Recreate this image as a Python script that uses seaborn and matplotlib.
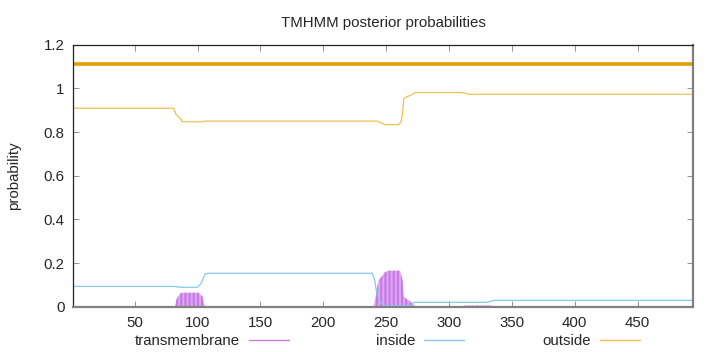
import numpy as np
import pandas as pd
import matplotlib
matplotlib.use("Agg")
import matplotlib.pyplot as plt
from matplotlib.lines import Line2D
import seaborn as sns

# ---- data ----
seq_start = 1
seq_end = 494

# predicted topology bar (whole sequence outside)
topo_x = [1, 494]
topo_y = [1.11, 1.11]

outside_x = [1, 81, 83, 86, 88, 103, 106, 243, 245, 249, 260, 262, 263, 264, 266, 270, 273, 310, 313, 316, 494]
outside_y = [0.909, 0.909, 0.880, 0.865, 0.847, 0.847, 0.850, 0.850, 0.845, 0.834, 0.834, 0.850,
             0.880, 0.953, 0.960, 0.970, 0.981, 0.981, 0.977, 0.973, 0.973]

inside_x = [1, 81, 87, 100, 103, 106, 109, 239, 241, 242.5, 245, 249, 270, 272, 331, 335, 494]
inside_y = [0.093, 0.093, 0.089, 0.089, 0.107, 0.150, 0.153, 0.153, 0.120, 0.061, 0.023, 0.004,
            0.004, 0.020, 0.020, 0.029, 0.029]

tm_x = [1, 82, 83, 84.5, 87, 101, 104, 105, 106, 240, 241, 242, 244, 246, 249, 252, 261, 263, 264,
        266.5, 269.5, 272, 273, 311, 312, 334, 335, 494]
tm_y = [0, 0, 0.028, 0.046, 0.064, 0.064, 0.046, 0.020, 0, 0, 0.030, 0.060, 0.122, 0.135, 0.158,
        0.165, 0.165, 0.122, 0.046, 0.034, 0.023, 0.008, 0, 0, 0.005, 0.005, 0, 0]

legend_labels = ["transmembrane", "inside", "outside"]
x_ticks = [50, 100, 150, 200, 250, 300, 350, 400, 450]
y_ticks = [0, 0.2, 0.4, 0.6, 0.8, 1.0, 1.2]
y_tick_labels = ["0", "0.2", "0.4", "0.6", "0.8", "1", "1.2"]

# ---- style ----
sns.set_style("ticks")
plt.rcParams["font.family"] = ["Liberation Sans", "DejaVu Sans"]
plt.rcParams["hatch.linewidth"] = 1.6
FS = 10.8

c_tm = "#c77be6"
c_tm_fill = "#dfa8f2"
c_in = "#86c9ee"
c_out = "#f2c04f"
c_topo = "#e69f00"

W, H = 720, 352
fig = plt.figure(figsize=(W / 100, H / 100), dpi=100)
ax = fig.add_axes([73 / W, 1 - 306.7 / H, (693 - 73) / W, (306.7 - 44.7) / H])

df_out = pd.DataFrame({"pos": outside_x, "p": outside_y})
df_in = pd.DataFrame({"pos": inside_x, "p": inside_y})
df_top = pd.DataFrame({"pos": topo_x, "p": topo_y})

# transmembrane impulses (filled, striped)
ax.fill_between(tm_x, 0, tm_y, facecolor=c_tm_fill, edgecolor=c_tm, hatch="||||", linewidth=0, zorder=2)

sns.lineplot(data=df_in, x="pos", y="p", ax=ax, color=c_in, linewidth=0.9, zorder=3, estimator=None, sort=False)
sns.lineplot(data=df_out, x="pos", y="p", ax=ax, color=c_out, linewidth=0.9, zorder=3, estimator=None, sort=False)
sns.lineplot(data=df_top, x="pos", y="p", ax=ax, color=c_topo, linewidth=2.6, zorder=4, estimator=None, sort=False)

ax.set_xlim(seq_start, seq_end)
ax.set_ylim(0, 1.2)
ax.set_xticks(x_ticks)
ax.set_xticklabels([str(t) for t in x_ticks], fontsize=FS)
ax.set_yticks(y_ticks)
ax.set_yticklabels(y_tick_labels, fontsize=FS)
ax.tick_params(direction="in", top=True, right=True, length=4, width=0.6, color="#808080")
ax.tick_params(axis="x", pad=7)
ax.tick_params(axis="y", pad=6)
ax.set_xlabel("")
ax.set_ylabel("probability", fontsize=FS, labelpad=16)
ax.set_title("TMHMM posterior probabilities", fontsize=FS, pad=13)

for side in ["top", "left"]:
    ax.spines[side].set_color("#222222")
    ax.spines[side].set_linewidth(0.9)
for side in ["bottom", "right"]:
    ax.spines[side].set_color("#808080")
    ax.spines[side].set_linewidth(1.6)
for s in ax.spines.values():
    s.set_zorder(5)

# ---- key at bottom: label then sample line ----
handles = [Line2D([], [], color=c_tm, lw=1.0),
           Line2D([], [], color=c_in, lw=1.0),
           Line2D([], [], color=c_out, lw=1.0)]
col_ends = [289, 464, 640]
for h, lab, xe in zip(handles, legend_labels, col_ends):
    fig.legend([h], [lab], loc="center right", bbox_to_anchor=(xe / W, 1 - 341 / H),
               markerfirst=False, frameon=False, fontsize=FS, handlelength=2.7,
               handletextpad=0.55, borderpad=0, borderaxespad=0)

fig.savefig("out.png", dpi=100)
